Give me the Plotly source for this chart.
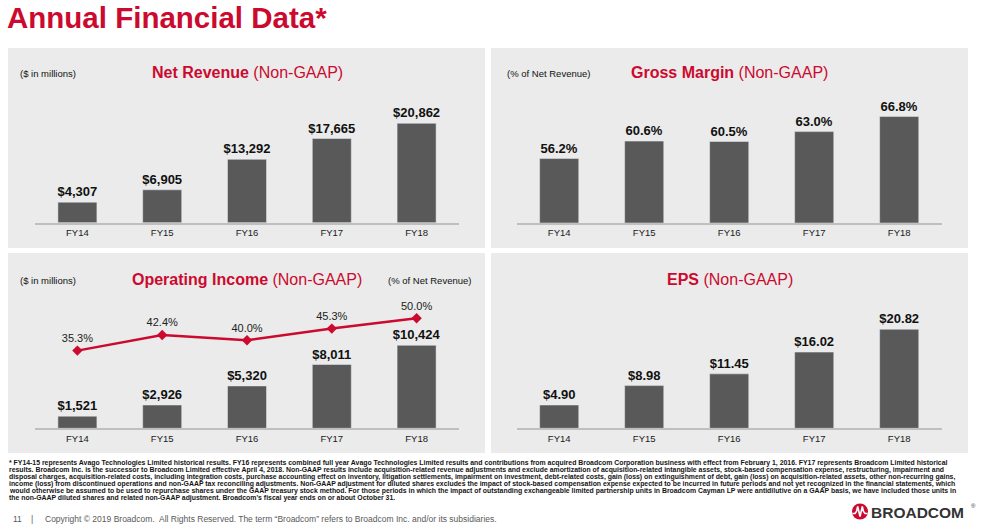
import plotly.graph_objects as go

W, H = 987, 526

# ---------------- data ----------------
years = ["FY14", "FY15", "FY16", "FY17", "FY18"]
net_revenue = [4307, 6905, 13292, 17665, 20862]
gross_margin_pct = [56.2, 60.6, 60.5, 63.0, 66.8]
operating_income = [1521, 2926, 5320, 8011, 10424]
operating_margin_pct = [35.3, 42.4, 40.0, 45.3, 50.0]
eps = [4.90, 8.98, 11.45, 16.02, 20.82]

footnote_lines = [
    "* FY14-15 represents Avago Technologies Limited historical results. FY16 represents combined full year Avago Technologies Limited results and contributions from acquired Broadcom Corporation business with effect from February 1, 2016. FY17 represents Broadcom Limited historical",
    "results. Broadcom Inc. is the successor to Broadcom Limited effective April 4, 2018. Non-GAAP results include acquisition-related revenue adjustments and exclude amortization of acquisition-related intangible assets, stock-based compensation expense, restructuring, impairment and",
    "disposal charges, acquisition-related costs, including integration costs, purchase accounting effect on inventory, litigation settlements, impairment on investment, debt-related costs, gain (loss) on extinguishment of debt, gain (loss) on acquisition-related assets, other non-recurring gains,",
    "income (loss) from discontinued operations and non-GAAP tax reconciling adjustments. Non-GAAP adjustment for diluted shares excludes the impact of stock-based compensation expense expected to be incurred in future periods and not yet recognized in the financial statements, which",
    "would otherwise be assumed to be used to repurchase shares under the GAAP treasury stock method. For those periods in which the impact of outstanding exchangeable limited partnership units in Broadcom Cayman LP were antidilutive on a GAAP basis, we have included those units in",
    "the non-GAAP diluted shares and related non-GAAP adjustment. Broadcom's fiscal year ends on or about October 31.",
]

# ---------------- style ----------------
FONT = "Liberation Sans, Arial, sans-serif"
RED = "#CC092F"
BAR = "#595959"
PANEL = "#EAEBEA"
AXIS = "#BFBFBF"
TXT = "#111111"


def px(x):
    return x / W


def py(y):
    return 1 - y / H


fig = go.Figure()

bar_common = dict(marker=dict(color=BAR), textposition="outside", cliponaxis=False, constraintext="none",
                  textfont=dict(family=FONT, size=13, color=TXT, weight="bold"),
                  hoverinfo="skip", showlegend=False)

fig.add_trace(go.Bar(x=years, y=net_revenue, texttemplate="$%{y:,}", xaxis="x", yaxis="y", **bar_common))
fig.add_trace(go.Bar(x=years, y=gross_margin_pct, texttemplate="%{y:.1f}%", xaxis="x2", yaxis="y2", **bar_common))
fig.add_trace(go.Bar(x=years, y=operating_income, texttemplate="$%{y:,}", xaxis="x3", yaxis="y3", **bar_common))
fig.add_trace(go.Bar(x=years, y=eps, texttemplate="$%{y:.2f}", xaxis="x4", yaxis="y4", **bar_common))
fig.add_trace(go.Scatter(x=years, y=operating_margin_pct, xaxis="x3", yaxis="y5",
                         mode="lines+markers+text", texttemplate="%{y:.1f}%", textposition="top center",
                         textfont=dict(family=FONT, size=11, color="#222222"),
                         line=dict(color=RED, width=2.5), marker=dict(symbol="diamond", size=8, color=RED),
                         cliponaxis=False, hoverinfo="skip", showlegend=False))


def xax(x0, x1):
    return dict(domain=[px(x0), px(x1)], showline=True, linecolor=AXIS, linewidth=2,
                showgrid=False, zeroline=False, ticks="", fixedrange=True,
                tickfont=dict(family=FONT, size=9.5, color="#1a1a1a"))


def yax(y_top, y_base, rng):
    return dict(domain=[py(y_base), py(y_top)], range=rng, visible=False, showgrid=False,
                zeroline=False, fixedrange=True)


L0, L1 = 35, 459
R0, R1 = 516.7, 941.7

fig.update_layout(
    width=W, height=H, autosize=False,
    margin=dict(l=0, r=0, t=0, b=0),
    paper_bgcolor="white", plot_bgcolor="rgba(0,0,0,0)",
    bargap=0.54, hovermode=False,
    font=dict(family=FONT),
    xaxis=dict(**xax(L0, L1), anchor="y"),
    xaxis2=dict(**xax(R0, R1), anchor="y2"),
    xaxis3=dict(**xax(L0, L1), anchor="y3"),
    xaxis4=dict(**xax(R0, R1), anchor="y4"),
    yaxis=dict(**yax(100, 222.7, [0, 25752]), anchor="x"),
    yaxis2=dict(**yax(100, 222.7, [40, 70.98]), anchor="x2"),
    yaxis3=dict(**yax(300, 428.3, [0, 16113]), anchor="x3"),
    yaxis4=dict(**yax(300, 428.3, [0, 26.98]), anchor="x4"),
    yaxis5=dict(**yax(300, 428.3, [0, 58.3]), anchor="x3", overlaying="y3"),
)

# panels
shapes = []
for (x0, y0, x1, y1) in [(8, 48, 485, 248), (491, 48, 968, 248), (8, 253, 485, 453), (491, 253, 968, 453)]:
    shapes.append(dict(type="rect", xref="paper", yref="paper", x0=px(x0), x1=px(x1), y0=py(y1), y1=py(y0),
                       fillcolor=PANEL, line=dict(width=0), layer="below"))

# logo circle + pulse
cx, cy, r = 860, 511.5, 8
shapes.append(dict(type="circle", xref="paper", yref="paper", x0=px(cx - r), x1=px(cx + r),
                   y0=py(cy + r), y1=py(cy - r), fillcolor=RED, line=dict(width=0)))
pts = [(852.5, 513.5), (855, 513.5), (856.5, 511.5), (857.7, 506.5), (860, 516.5), (862.3, 506.5),
       (863.5, 511.5), (865, 513.5), (867.5, 513.5)]
path = "M " + " L ".join(f"{px(a):.5f},{py(b):.5f}" for a, b in pts)
shapes.append(dict(type="path", xref="paper", yref="paper", path=path, line=dict(color="white", width=1.6)))
fig.update_layout(shapes=shapes)

ann = []


def add_text(text, x, y, size, color=TXT, xanchor="left", yanchor="middle", weight="normal", pad=1):
    ann.append(dict(text=text, x=px(x), y=py(y), xref="paper", yref="paper", showarrow=False,
                    xanchor=xanchor, yanchor=yanchor, align=xanchor if xanchor != "center" else "center",
                    borderpad=pad,
                    font=dict(family=FONT, size=size, color=color, weight=weight)))


add_text("Annual Financial Data*", 6, 17, 29.5, color=RED, weight="bold", pad=0)

add_text("<b>Net Revenue</b> (Non-GAAP)", 247, 72, 16, color=RED, xanchor="center")
add_text("<b>Gross Margin</b> (Non-GAAP)", 729.5, 72, 16, color=RED, xanchor="center")
add_text("<b>Operating Income</b> (Non-GAAP)", 246.5, 279, 16, color=RED, xanchor="center")
add_text("<b>EPS</b> (Non-GAAP)", 730, 279, 16, color=RED, xanchor="center")

add_text("($ in millions)", 18, 73, 9.5)
add_text("(% of Net Revenue)", 505, 73, 9.5)
add_text("($ in millions)", 18, 280, 9.5)
add_text("(% of Net Revenue)", 473, 280, 9.5, xanchor="right")

foot_y = [462.5, 469.6, 476.7, 483.8, 490.9, 498.0]
for line, y in zip(footnote_lines, foot_y):
    add_text(line, 7, y, 6.9, color="#141414", weight="bold")

add_text("11", 11, 519, 8.5, color="#595959")
add_text("|", 29, 519, 8.5, color="#595959")
add_text("Copyright © 2019 Broadcom.  All Rights Reserved. The term \u201cBroadcom\u201d refers to Broadcom Inc. and/or its subsidiaries.",
         43, 519, 8.5, color="#595959")

add_text("BROADCOM", 869, 512, 15.5, color="#333333", weight="bold")
add_text("®", 969, 506, 6, color="#333333")

fig.update_layout(annotations=ann)

fig.write_html("out.html", config={"displayModeBar": False, "staticPlot": True},
               post_script="document.body.style.margin='0';document.body.style.padding='0';document.body.style.overflow='hidden';")
